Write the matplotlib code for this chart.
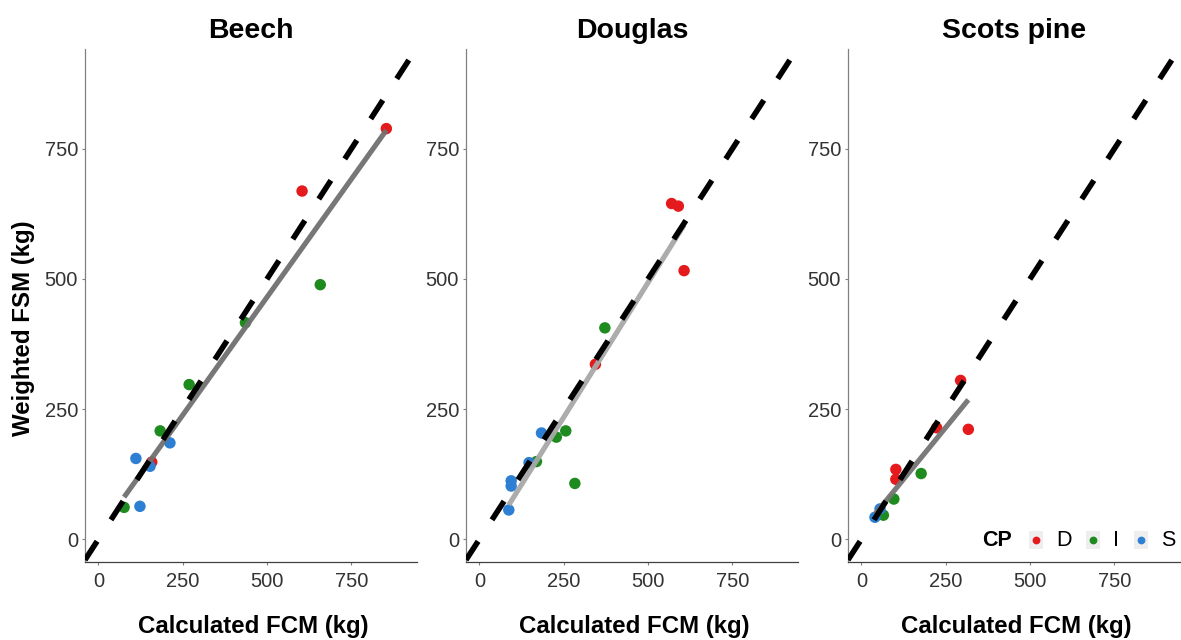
import matplotlib
matplotlib.use("Agg")
import matplotlib.pyplot as plt
import numpy as np
from matplotlib.patches import Rectangle
from matplotlib.lines import Line2D

plt.rcParams["font.family"] = ["Liberation Sans", "DejaVu Sans"]

species = ["Beech", "Douglas", "Scots pine"]
cp_levels = ["D", "I", "S"]
cp_colors = ["#e41a1c", "#1e8b1e", "#2c7fd2"]
fit_greys = ["#707070", "#a8a8a8", "#747474"]
ticks = [0, 250, 500, 750]

beech_fcm = [854, 604, 658, 436, 269, 183, 212, 111, 158, 153, 123, 76]
beech_fsm = [789, 669, 489, 416, 297, 208, 185, 155, 148, 140, 63, 61]
beech_cp = ["D", "D", "I", "I", "I", "I", "S", "S", "D", "S", "S", "I"]

douglas_fcm = [570, 590, 607, 344, 372, 256, 228, 169, 283, 184, 147, 94, 94, 87]
douglas_fsm = [645, 640, 516, 336, 406, 208, 196, 149, 107, 204, 147, 112, 102, 56]
douglas_cp = ["D", "D", "D", "D", "I", "I", "I", "I", "I", "S", "S", "S", "S", "S"]

pine_fcm = [294, 317, 223, 102, 102, 177, 96, 65, 40, 55]
pine_fsm = [305, 211, 214, 134, 115, 126, 77, 46, 42, 58]
pine_cp = ["D", "D", "D", "D", "D", "I", "I", "I", "S", "S"]

panels = [
    (beech_fcm, beech_fsm, beech_cp),
    (douglas_fcm, douglas_fsm, douglas_cp),
    (pine_fcm, pine_fsm, pine_cp),
]

W, H = 1181, 640
fig = plt.figure(figsize=(W / 100, H / 100), dpi=100)

xlim = (-40, 945)
ylim = (-44, 942)
lefts = [85, 466, 848]
color_of = dict(zip(cp_levels, cp_colors))

for i, (name, (fcm, fsm, cp)) in enumerate(zip(species, panels)):
    ax = fig.add_axes([lefts[i] / W, 1 - 562 / H, 332 / W, 513 / H])
    x = np.array(fcm, dtype=float)
    y = np.array(fsm, dtype=float)
    ax.scatter(x, y, s=68, c=[color_of[c] for c in cp], linewidths=0, zorder=2)

    slope, intercept = np.polyfit(x, y, 1)
    xs = np.array([x.min(), x.max()])
    ax.plot(xs, intercept + slope * xs, color=fit_greys[i], lw=3.7,
            solid_capstyle="butt", alpha=0.95, zorder=3)

    ax.plot(xlim, xlim, color="black", lw=4.0, dashes=(4.0, 4.6),
            dash_capstyle="butt", zorder=4)

    ax.set_xlim(xlim)
    ax.set_ylim(ylim)
    ax.set_xticks(ticks)
    ax.set_yticks(ticks)
    for side in ("top", "right"):
        ax.spines[side].set_visible(False)
    ax.spines["left"].set_color("#808080")
    ax.spines["bottom"].set_color("#404040")
    ax.spines["left"].set_linewidth(0.9)
    ax.spines["bottom"].set_linewidth(0.9)
    ax.tick_params(axis="both", length=2.5, width=0.8, color="#808080",
                   labelsize=14.5, labelcolor="#333333")
    ax.tick_params(axis="x", pad=5)
    ax.tick_params(axis="y", pad=2.5)

    ax.text(0.5, 1.035, name, transform=ax.transAxes, ha="center", va="center",
            fontsize=20.5, fontweight="bold")
    cx = (lefts[i] + 168) / W
    fig.text(cx, 1 - 627 / H, "Calculated FCM (kg)", ha="center", va="center",
             fontsize=17.3, fontweight="bold")

fig.text(24 / W, 1 - 328 / H, "Weighted FSM (kg)", rotation=90, ha="center",
         va="center", fontsize=17.3, fontweight="bold")

# legend, drawn by hand in figure pixels
ly = 1 - 540 / H
fig.text(982 / W, ly, "CP", ha="left", va="center", fontsize=15.5,
         fontweight="bold")
key_x = [1036, 1093, 1141]
label_x = [1056, 1113, 1161]
for lvl, col, kx, tx in zip(cp_levels, cp_colors, key_x, label_x):
    fig.add_artist(Rectangle(((kx - 7) / W, 1 - 549 / H), 14 / W, 18 / H,
                             transform=fig.transFigure, facecolor="#eeeeee",
                             edgecolor="none"))
    fig.add_artist(Line2D([kx / W], [ly], transform=fig.transFigure,
                          marker="o", markersize=5.6, color=col,
                          markeredgewidth=0, linestyle="none"))
    fig.text(tx / W, ly, lvl, ha="left", va="center", fontsize=15.5)

fig.savefig("out.png", dpi=100)
